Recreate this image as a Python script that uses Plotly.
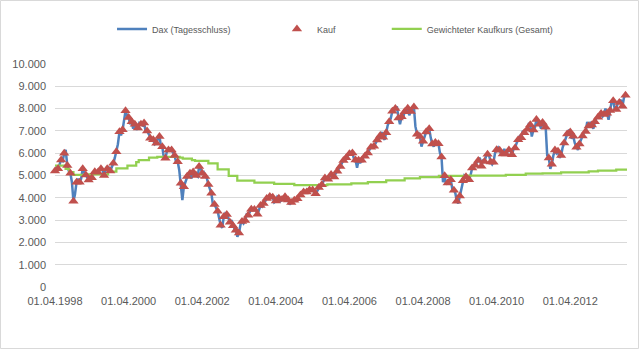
import plotly.graph_objects as go

# ---- DAX (Tagesschluss): values read at the 1st and 16th of each month ----
dax_1998 = [5200, 5350, 5300, 5550, 5700, 5650, 6000, 6150, 5450, 5200, 5100, 4700,
            3850, 4150, 4700, 4850, 4700, 4850]
dax_1999 = [5300, 5150, 5020, 4900, 4800, 4950, 4900, 5150, 5170, 5100, 5150, 5300,
            5300, 5250, 5000, 5250, 5300, 5350, 5200, 5350, 5550, 5800, 6070, 6400]
dax_2000 = [6960, 6800, 7050, 7600, 7900, 7700, 7600, 7300, 7410, 7100, 7300, 7050,
            7130, 7350, 7300, 7250, 7350, 7000, 7000, 6850, 6670, 6600, 6600, 6400]
dax_2001 = [6450, 6650, 6750, 6300, 6290, 5800, 5770, 6100, 6140, 6200, 6140, 6000,
            5900, 5600, 5620, 5250, 4650, 3900, 4500, 4700, 4950, 5100, 5100, 4870]
dax_2002 = [5160, 5050, 5000, 4950, 5400, 5350, 5100, 5150, 4950, 4900, 4600, 4400,
            4200, 3700, 3700, 3550, 3400, 3100, 2770, 2650, 3150, 3300, 3250, 3100]
dax_2003 = [2900, 3000, 2750, 2600, 2550, 2250, 2420, 2800, 2940, 2850, 2980, 3250,
            3220, 3350, 3490, 3450, 3480, 3500, 3260, 3450, 3650, 3600, 3745, 3850]
dax_2004 = [3965, 4050, 4060, 4100, 4020, 3800, 3860, 4050, 3985, 3850, 3920, 3950,
            4050, 3900, 3900, 3700, 3785, 3900, 3890, 3900, 3960, 4100, 4125, 4200]
dax_2005 = [4256, 4250, 4255, 4350, 4350, 4380, 4350, 4250, 4185, 4300, 4460, 4550,
            4586, 4750, 4886, 4850, 4830, 4950, 5044, 4900, 4930, 5100, 5190, 5300]
dax_2006 = [5408, 5550, 5674, 5800, 5797, 5900, 5970, 6050, 6009, 5750, 5692, 5350,
            5683, 5550, 5682, 5800, 5860, 5950, 6004, 6150, 6268, 6350, 6309, 6450]
dax_2007 = [6597, 6700, 6789, 6950, 6715, 6600, 6917, 7250, 7409, 7550, 7883, 7900,
            8007, 8100, 7584, 7300, 7638, 7600, 7862, 7950, 8019, 7700, 7871, 7950]
dax_2008 = [8067, 7200, 6851, 6900, 6748, 6300, 6535, 6800, 6949, 7100, 7097, 6700,
            6418, 6300, 6479, 6400, 6422, 6000, 5831, 4700, 4988, 4600, 4669, 4700]
dax_2009 = [4810, 4400, 4338, 4200, 3844, 3750, 4085, 4500, 4770, 5000, 4941, 4850,
            4809, 5000, 5332, 5350, 5458, 5600, 5675, 5800, 5415, 5700, 5625, 5850]
dax_2010 = [5957, 5900, 5608, 5500, 5598, 6000, 6154, 6250, 6136, 5950, 5965, 6200,
            5966, 6050, 6148, 6150, 5925, 6200, 6229, 6450, 6601, 6750, 6688, 7000]
dax_2011 = [6914, 7050, 7077, 7350, 7272, 6750, 7041, 7150, 7514, 7350, 7294, 7100,
            7376, 7250, 7159, 5900, 5785, 5300, 5502, 5900, 6141, 6000, 6089, 5800]
dax_2012 = [5898, 6250, 6458, 6750, 6856, 7000, 6947, 6650, 6761, 6450, 6264, 6150,
            6416, 6600, 6772, 6950, 6970, 7400, 7216, 7350, 7260, 7100, 7405, 7600]
dax_2013 = [7612, 7700, 7776, 7650, 7741, 8000, 7795, 7500, 7914, 8300, 8349, 8000,
            7959, 8250, 8276, 8400, 8103, 8500, 8594, 8700]

dax_years = [(1998, 4, 12, dax_1998), (1999, 1, 12, dax_1999), (2000, 1, 12, dax_2000),
             (2001, 1, 12, dax_2001), (2002, 1, 12, dax_2002), (2003, 1, 12, dax_2003),
             (2004, 1, 12, dax_2004), (2005, 1, 12, dax_2005), (2006, 1, 12, dax_2006),
             (2007, 1, 12, dax_2007), (2008, 1, 12, dax_2008), (2009, 1, 12, dax_2009),
             (2010, 1, 12, dax_2010), (2011, 1, 12, dax_2011), (2012, 1, 12, dax_2012),
             (2013, 1, 10, dax_2013)]

dax_dates, dax_values = [], []
for year, m0, m1, vals in dax_years:
    ds = [f"{year}-{m:02d}-{d:02d}" for m in range(m0, m1 + 1) for d in (1, 16)]
    assert len(ds) == len(vals), (year, len(ds), len(vals))
    dax_dates += ds
    dax_values += vals

# ---- Kauf: monthly purchases on the 1st of each month ----
kauf_dates = dax_dates[0::2]
kauf_values = dax_values[0::2]

# ---- Gewichteter Kaufkurs (Gesamt) ----
kurs_dates = ["1998-04-01", "1998-07-15", "1998-08-20", "1998-10-01", "1999-02-01",
              "1999-09-10", "1999-12-01", "2000-03-20", "2000-06-15", "2000-07-10",
              "2000-10-20", "2001-01-10", "2001-08-20", "2001-09-20", "2001-12-20",
              "2002-01-20", "2002-06-01", "2002-09-01", "2002-12-20", "2003-03-15",
              "2003-09-01", "2004-03-15", "2004-10-01", "2005-08-25", "2006-04-20",
              "2006-10-01", "2007-04-01", "2007-10-01", "2008-03-01", "2008-09-05",
              "2009-06-01", "2010-07-01", "2011-01-15", "2011-07-01", "2012-01-01",
              "2012-10-01", "2013-01-01", "2013-07-01", "2013-10-16"]
kurs_values = [5440, 5300, 5150, 5030, 5050,
               5170, 5320, 5440, 5600, 5690,
               5800, 5840, 5800, 5760, 5690,
               5660, 5540, 5270, 4980, 4770,
               4680, 4620, 4570, 4600, 4650,
               4700, 4780, 4870, 4930, 4980,
               4990, 5030, 5080, 5100, 5140,
               5180, 5220, 5260, 5270]

x_ticks = ["1998-04-01", "2000-04-01", "2002-04-01", "2004-04-01",
           "2006-04-01", "2008-04-01", "2010-04-01", "2012-04-01"]

FONT = "Liberation Sans, Arial, sans-serif"
TXT = "#595959"

fig = go.Figure()
fig.add_trace(go.Scatter(x=dax_dates, y=dax_values, mode="lines", name="Dax (Tagesschluss)",
                         line=dict(color="#4F81BD", width=2.5), legend="legend",
                         showlegend=True))
fig.add_trace(go.Scatter(x=kurs_dates, y=kurs_values, mode="lines",
                         name="Gewichteter Kaufkurs (Gesamt)",
                         line=dict(color="#92D050", width=2.25, shape="hv"), legend="legend3",
                         showlegend=True))
fig.add_trace(go.Scatter(x=kauf_dates, y=kauf_values, mode="markers", name="Kauf",
                         marker=dict(symbol="triangle-up", size=9, color="#C0504D"),
                         cliponaxis=False, legend="legend2", showlegend=True))

leg_common = dict(orientation="h", yanchor="middle", y=1.157, xanchor="left",
                  bgcolor="rgba(0,0,0,0)", font=dict(family=FONT, size=9, color=TXT))

fig.update_layout(
    width=640, height=350,
    margin=dict(l=55, r=13, t=64, b=63),
    paper_bgcolor="white", plot_bgcolor="white",
    separators=",.",
    showlegend=True,
    font=dict(family=FONT, size=11, color=TXT),
    legend=dict(x=0.0997, **leg_common),
    legend2=dict(x=0.388, **leg_common),
    legend3=dict(x=0.580, **leg_common),
    xaxis=dict(type="date", range=["1998-04-01", "2013-10-16"], tickvals=x_ticks,
               tickformat="%d.%m.%Y", showgrid=False, zeroline=False, showline=False,
               ticks="", ticklabelstandoff=6, tickfont=dict(family=FONT, size=11, color=TXT)),
    yaxis=dict(range=[0, 10000], dtick=1000, tickformat=",.0f", showgrid=True,
               gridcolor="#D9D9D9", gridwidth=1, zeroline=False, showline=False,
               ticks="", ticklabelstandoff=8, tickfont=dict(family=FONT, size=11, color=TXT)),
    shapes=[dict(type="rect", xref="paper", yref="paper",
                 x0=(0.5 - 55) / 572, x1=(638.5 - 55) / 572,
                 y0=(287 - 348.5) / 223, y1=(287 - 0.5) / 223,
                 line=dict(color="#D9D9D9", width=1), fillcolor="rgba(0,0,0,0)", layer="below")],
)

fig.write_html("out.html")
